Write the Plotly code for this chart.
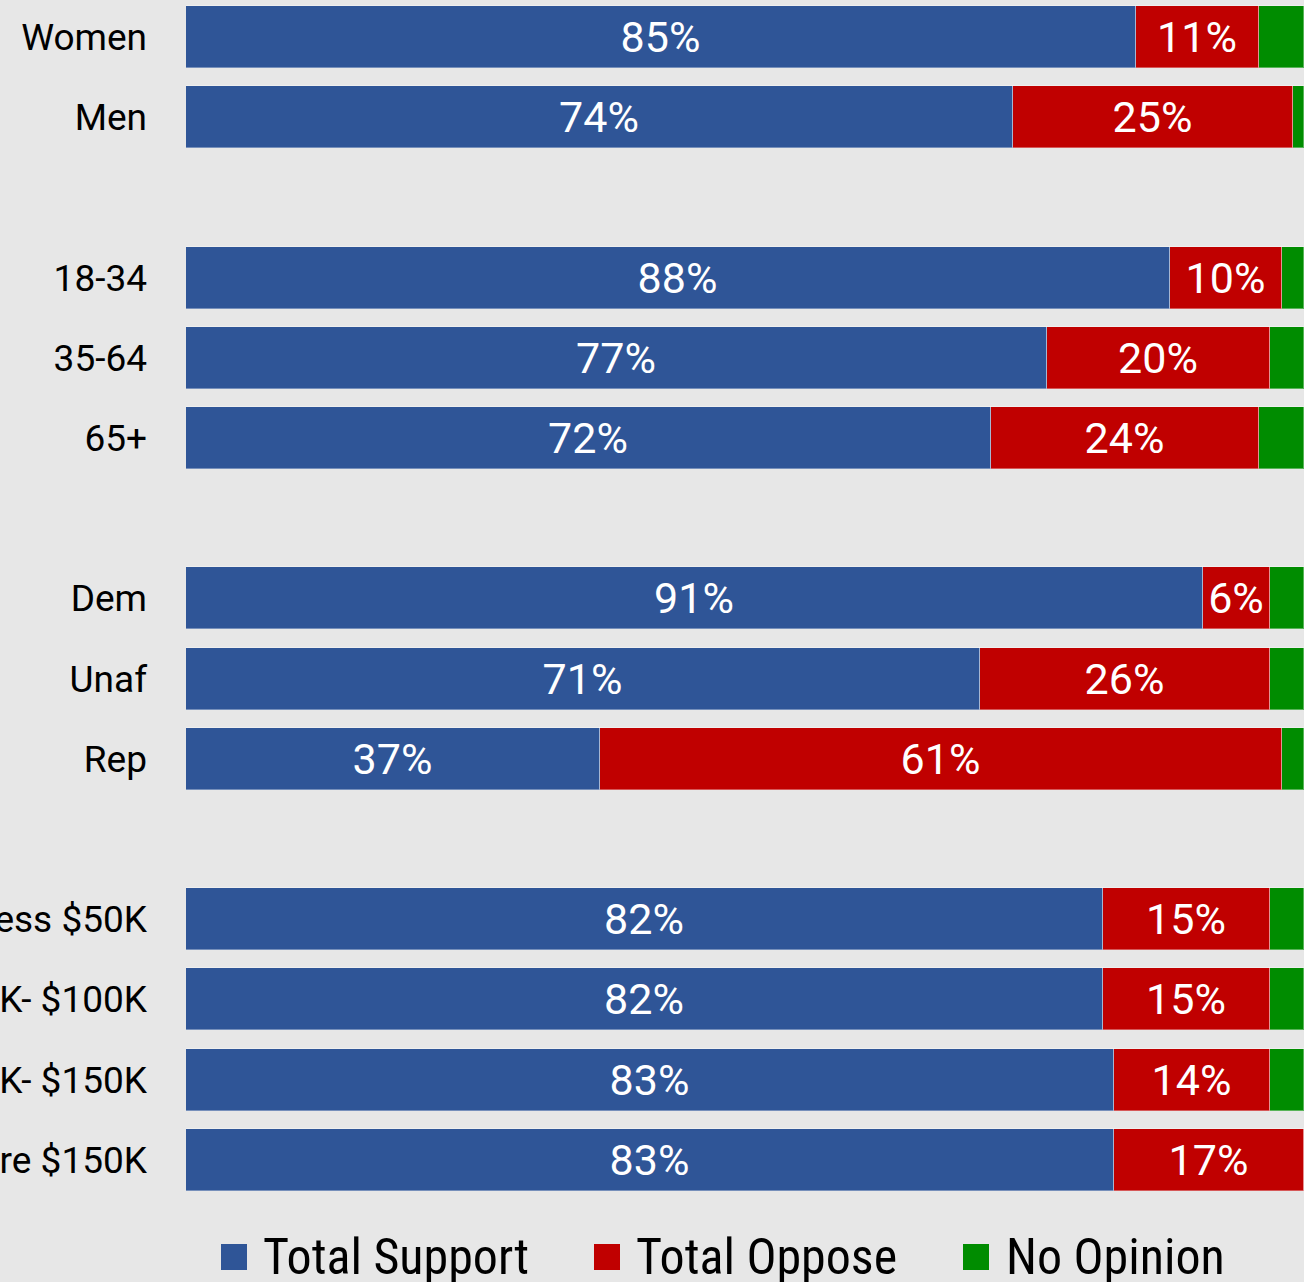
import plotly.graph_objects as go

# Survey breakdown by demographic group (percent)
categories = ["Women", "Men",
              "18-34", "35-64", "65+",
              "Dem", "Unaf", "Rep",
              "Less $50K", "$50K- $100K", "$100K- $150K", "More $150K"]
group_sizes = [2, 3, 3, 4]
support = [85, 74, 88, 77, 72, 91, 71, 37, 82, 82, 83, 83]
oppose = [11, 25, 10, 20, 24, 6, 26, 61, 15, 15, 14, 17]
no_opinion = [4, 1, 2, 3, 4, 3, 3, 2, 3, 3, 3, 0]

series_names = ["Total Support", "Total Oppose", "No Opinion"]
series_colors = ["#2F5597", "#C00000", "#008C00"]

# Row positions: one empty slot between demographic groups
positions = []
slot = 0
for size in group_sizes:
    for _ in range(size):
        positions.append(slot)
        slot += 1
    slot += 1

W, H = 1304, 1282
ML, MR, MT, MB = 186, 0, 0, 82
plot_w = W - ML - MR
plot_h = H - MT - MB


def px_x(p):
    return (p - ML) / plot_w


def px_y(p):
    return (MT + plot_h - p) / plot_h


font_family = "Roboto, 'Open Sans', sans-serif"
legend_family = "'Liberation Sans Narrow', 'Roboto Condensed', Roboto, sans-serif"

fig = go.Figure()
for name, color, vals, labelled in zip(series_names, series_colors,
                                       [support, oppose, no_opinion],
                                       [True, True, False]):
    fig.add_trace(go.Bar(
        name=name,
        orientation="h",
        x=vals,
        y=positions,
        width=0.773,
        marker=dict(color=color, line=dict(color="rgba(255,255,255,0.35)", width=1)),
        text=[f"{v}%" for v in vals] if labelled else None,
        textposition="inside" if labelled else "none",
        insidetextanchor="middle",
        textangle=0,
        textfont=dict(family=font_family, size=43, color="white"),
        showlegend=False,
        hoverinfo="skip",
    ))

# Legend: coloured squares with series names beneath the bars
sq_left = [221, 594, 963]
txt_left = [261, 634, 1004]
for name, color, sx, tx in zip(series_names, series_colors, sq_left, txt_left):
    fig.add_shape(type="rect", xref="paper", yref="paper",
                  x0=px_x(sx), x1=px_x(sx + 26),
                  y0=px_y(1270), y1=px_y(1244),
                  fillcolor=color, line=dict(width=0))
    fig.add_annotation(xref="paper", yref="paper",
                       x=px_x(tx), y=px_y(1257),
                       xanchor="left", yanchor="middle",
                       text=name, showarrow=False,
                       font=dict(family=legend_family, size=50, color="black"))

fig.update_layout(
    template="none",
    width=W, height=H,
    margin=dict(l=ML, r=MR, t=MT, b=MB, pad=0),
    barmode="stack",
    bargap=0,
    paper_bgcolor="#e7e7e7",
    plot_bgcolor="rgba(0,0,0,0)",
    showlegend=False,
    xaxis=dict(range=[0, 100], visible=False, fixedrange=True, automargin=False),
    yaxis=dict(
        range=[14.50, -0.461],
        tickvals=positions,
        ticktext=categories,
        showgrid=False, zeroline=False, showline=False,
        ticks="", ticklabelstandoff=38,
        tickfont=dict(family=font_family, size=37, color="black"),
        automargin=False, fixedrange=True,
    ),
)

fig.write_html("out.html")
